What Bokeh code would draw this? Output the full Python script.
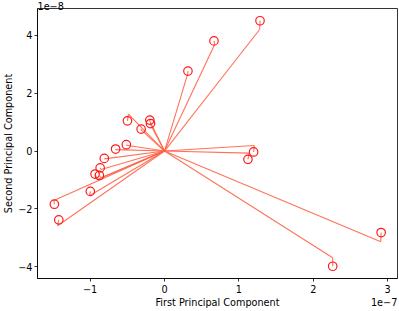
from bokeh.plotting import figure
from bokeh.models import Range1d, FixedTicker, LinearAxis
from bokeh.embed import file_html
from bokeh.resources import INLINE

# Loading-vector end points (PC1 in units of 1e-7, PC2 in units of 1e-8)
vec_pc1 = [1.279, 0.676, 0.310, -0.485, -0.197, -0.188, -0.314, -0.513, -0.657,
           -0.809, -0.852, -0.902, -0.852, -1.007, -1.487, -1.437, 1.207, 1.136,
           2.907, 2.261]
vec_pc2 = [4.203, 3.697, 2.651, 1.280, 1.040, 0.920, 0.730, 0.200, 0.050,
           -0.270, -0.640, -0.984, -0.924, -1.545, -1.709, -2.581, 0.192, -0.070,
           -3.139, -3.690]
# Marker (label) positions after de-overlapping
lab_pc1 = [1.284, 0.665, 0.315, -0.498, -0.197, -0.188, -0.314, -0.513, -0.657,
           -0.809, -0.865, -0.933, -0.875, -0.997, -1.480, -1.421, 1.198, 1.122,
           2.912, 2.261]
lab_pc2 = [4.506, 3.809, 2.766, 1.046, 1.071, 0.952, 0.760, 0.220, 0.070,
           -0.255, -0.582, -0.795, -0.844, -1.395, -1.838, -2.379, -0.031, -0.286,
           -2.818, -3.983]

x_ticks = [-1, 0, 1, 2, 3]
y_ticks = [-4, -2, 0, 2, 4]
x_title = "First Principal Component"
y_title = "Second Principal Component"
x_exponent = "1e\u22127"
y_exponent = "1e\u22128"

FONT = "DejaVu Sans"
FS = "9.7px"
TXT = "black"

X0, X1 = -1.707, 3.132
Y0, Y1 = -4.407, 4.93

p = figure(width=399, height=311, output_backend="svg", toolbar_location=None,
           x_range=Range1d(X0, X1), y_range=Range1d(Y0, Y1),
           min_border_left=0, min_border_right=2, min_border_top=0, min_border_bottom=33)

p.background_fill_color = "white"
p.border_fill_color = "white"
p.outline_line_color = "black"
p.outline_line_width = 0.8
p.xgrid.visible = False
p.ygrid.visible = False

n = len(vec_pc1)
origin = [0.0] * n
line_color = "#ff6347"
p.segment(x0=origin, y0=origin, x1=vec_pc1, y1=vec_pc2,
          line_color=line_color, line_width=1.1, line_alpha=0.9)
p.segment(x0=vec_pc1, y0=vec_pc2, x1=lab_pc1, y1=lab_pc2,
          line_color=line_color, line_width=1.1, line_alpha=0.9)
p.scatter(lab_pc1, lab_pc2, marker="circle", size=8.5, fill_color=None,
          line_color="#ff1a1a", line_width=1.2)

def minus(v):
    return str(v).replace("-", "\u2212")

def style(ax):
    ax.axis_label_text_font = FONT
    ax.axis_label_text_font_size = FS
    ax.axis_label_text_font_style = "normal"
    ax.axis_label_text_color = TXT
    ax.axis_label_standoff = 3
    ax.major_label_text_font = FONT
    ax.major_label_text_font_size = FS
    ax.major_label_text_color = TXT
    ax.major_label_standoff = 3
    ax.major_tick_out = 3
    ax.major_tick_in = 0
    ax.minor_tick_out = 0
    ax.minor_tick_in = 0
    ax.axis_line_width = 0.8
    ax.major_tick_line_width = 0.8

for ax, ticks in ((p.xaxis[0], x_ticks), (p.yaxis[0], y_ticks)):
    ax.ticker = FixedTicker(ticks=ticks)
    ax.major_label_overrides = {t: minus(t) for t in ticks}
    style(ax)
p.yaxis[0].axis_label = y_title
p.yaxis[0].axis_label_standoff = 1
p.yaxis[0].major_label_standoff = 2

# x-axis title and the x offset text share one row below the tick labels
x_mid = (X0 + X1) / 2
x_exp = X1 - 0.18
title_axis = LinearAxis(ticker=FixedTicker(ticks=[x_mid, x_exp]),
                        major_label_overrides={x_mid: x_title, x_exp: x_exponent})
style(title_axis)
title_axis.axis_line_color = None
title_axis.major_tick_line_color = None
title_axis.major_tick_out = 0
title_axis.major_label_standoff = 1
p.add_layout(title_axis, "below")

p.title.text = y_exponent
p.title.align = "left"
p.title.text_font = FONT
p.title.text_font_size = FS
p.title.text_font_style = "normal"
p.title.text_color = TXT
p.title.standoff = -2

open("out.html", "w").write(file_html(p, INLINE))
